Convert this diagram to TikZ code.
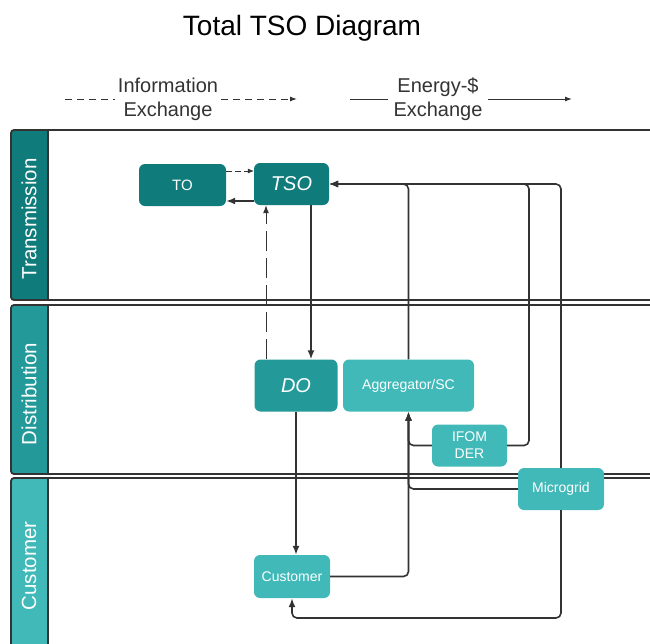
\documentclass[tikz,border=0pt]{standalone}
\usepackage{fontspec}
\setmainfont{Liberation Sans}
\usetikzlibrary{arrows.meta,calc}
\definecolor{tealdark}{HTML}{107B7B}
\definecolor{tealmid}{HTML}{24999A}
\definecolor{teallight}{HTML}{41B9B9}
\definecolor{linegray}{HTML}{333333}
\tikzset{
  box/.style={rectangle, rounded corners=6pt, text=white, inner sep=0pt, align=center, font=\fontsize{14}{17}\selectfont},
  lane/.style={draw=linegray, line width=1.8pt, rounded corners=3pt},
  lanetext/.style={rotate=90, text=white, font=\fontsize{20.5}{24}\selectfont},
  flow/.style={draw=linegray, line width=1.6pt, rounded corners=5pt, -{Latex[length=9pt,width=7pt]}},
  info/.style={draw=linegray, line width=1pt, dash pattern=on 20pt off 7pt, -{Latex[length=8pt,width=6pt]}},
  legend/.style={text=linegray, align=center, font=\fontsize{20}{24}\selectfont},
}

\begin{document}
\begin{tikzpicture}[x=1pt,y=-1pt]
		%%%%% START %%%%%
		\useasboundingbox (0,0) rectangle (650,643);
		\fill[white] (0,0) rectangle (650,643);
		
		\node[anchor=base] (title) at (302,35) {\fontsize{28}{32}\selectfont Total TSO Diagram};
		
		% legend
		\node[legend, inner sep=3pt] (infotext) at (168,99) {Information\\Exchange};
		\node[legend, inner sep=5pt] (energytext) at (438,99) {Energy-\$\\Exchange};
		\coordinate (infostart) at (65,99);
		\coordinate (infoend) at (297,99);
		\coordinate (energystart) at (350,99);
		\coordinate (energyend) at (572,99);
		\draw[linegray, line width=1pt, dash pattern=on 7pt off 5pt] (infostart) -- (infotext.west);
		\draw[linegray, line width=1pt, dash pattern=on 7pt off 5pt, -{Latex[length=7pt,width=5pt]}] (infotext.east) -- (infoend);
		\draw[linegray, line width=1pt] (energystart) -- (energytext.west);
		\draw[linegray, line width=1pt, -{Latex[length=7pt,width=5pt]}] (energytext.east) -- (energyend);
		
		% lanes
		\fill[tealdark, rounded corners=3pt] (11,130) rectangle (48,300);
		\fill[tealmid, rounded corners=3pt] (11,305) rectangle (48,474);
		\fill[teallight, rounded corners=3pt] (11,478) rectangle (48,660);
		\draw[lane] (11,130) rectangle (662,300);
		\draw[lane] (11,305) rectangle (662,474);
		\draw[lane] (11,478) rectangle (662,660);
		\draw[linegray, line width=1.8pt] (48,130) -- (48,300) (48,305) -- (48,474) (48,478) -- (48,660);
		\node[lanetext] (trlabel) at (29,219) {Transmission};
		\node[lanetext] (dilabel) at (29,394) {Distribution};
		\node[lanetext] (culabel) at (29,566) {Customer};
		
		% boxes
		\node[box, fill=tealdark, minimum width=87pt, minimum height=42pt, font=\fontsize{15}{18}\selectfont] (TO) at (182.5,185) {TO};
		\node[box, fill=tealdark, minimum width=75pt, minimum height=42pt, font=\fontsize{20}{24}\selectfont\itshape] (TSO) at (291.5,184) {TSO};
		\node[box, fill=tealmid, minimum width=83pt, minimum height=52pt, font=\fontsize{20}{24}\selectfont\itshape] (DO) at (296,385.5) {DO};
		\node[box, fill=teallight, minimum width=131pt, minimum height=52pt] (Agg) at (408.5,385.5) {Aggregator/SC};
		\node[box, fill=teallight, minimum width=75pt, minimum height=42pt] (IFOM) at (469.5,445.5) {IFOM\\DER};
		\node[box, fill=teallight, minimum width=86pt, minimum height=42pt] (Micro) at (561,489) {Microgrid};
		\node[box, fill=teallight, minimum width=76pt, minimum height=43pt] (Cust) at (292,576.5) {Customer};
		
		% information flows
		\draw[info, line width=0.6pt, dash pattern=on 6pt off 3pt, -{Latex[length=6pt,width=5pt]}] ([yshift=14pt]TO.east) -- ([yshift=14pt]TO.east -| TSO.west);
		\draw[info] ([xshift=-30pt]DO.north) -- ([xshift=-30pt]DO.north |- TSO.south);
		
		% energy flows
		\draw[flow] ([yshift=-17pt]TSO.west) -- ([yshift=-17pt]TSO.west -| TO.east);
		\draw[flow] ([xshift=19.5pt]TSO.south) -- ([xshift=19.5pt]TSO.south |- DO.north);
		\draw[flow] (DO.south) -- (DO.south |- Cust.north);
		\draw[flow] (Agg.north) |- (TSO.east);
		\coordinate (ifomtop) at (529,184);
		\draw[flow] (IFOM.east) -| (ifomtop) -- (TSO.east);
		\draw[flow] (Micro.north) |- (TSO.east);
		\draw[flow] (Cust.east) -| (Agg.south);
		\draw[flow] (IFOM.west) -| (Agg.south);
		\draw[flow] (Micro.west) -| (Agg.south);
		\coordinate (custloop) at (292,618);
		\draw[flow] (Micro.south) |- (custloop) -- (Cust.south);
		
		%%%%% END %%%%%
\end{tikzpicture}
\end{document}
